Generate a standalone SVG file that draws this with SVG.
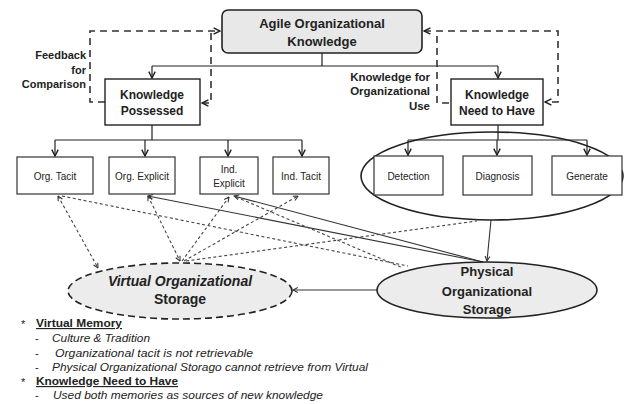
<svg xmlns="http://www.w3.org/2000/svg" width="627" height="404" viewBox="0 0 627 404">
  <defs>
    <marker id="arr" viewBox="0 0 10 10" refX="9" refY="5" markerWidth="8" markerHeight="8" markerUnits="userSpaceOnUse" orient="auto-start-reverse">
      <path d="M1,1 L9,5 L1,9" fill="none" stroke="#222" stroke-width="1.8"/>
    </marker>
    <marker id="arrS" viewBox="0 0 10 10" refX="9" refY="5" markerWidth="6" markerHeight="6" markerUnits="userSpaceOnUse" orient="auto-start-reverse">
      <path d="M1,1 L9,5 L1,9" fill="none" stroke="#333" stroke-width="1.8"/>
    </marker>
  </defs>
  <style>
    .t{font-family:"Liberation Sans",Arial,sans-serif;fill:#222}
    .b{font-weight:bold}
    .mid{text-anchor:middle}
    .end{text-anchor:end}
    .box{fill:#fff;stroke:#222;stroke-width:1.4}
    .sbox{fill:#fff;stroke:#333;stroke-width:1.2}
    .ln{fill:none;stroke:#222;stroke-width:1.2}
    .fb{fill:none;stroke:#333;stroke-width:1.6;stroke-dasharray:7 5}
    .dl{fill:none;stroke:#444;stroke-width:1.1;stroke-dasharray:3 2.5}
    .sl{fill:none;stroke:#333;stroke-width:1.1}
    .note{font-family:"Liberation Sans",Arial,sans-serif;fill:#222;font-size:11px;font-style:italic}
    .head{font-family:"Liberation Sans",Arial,sans-serif;fill:#222;font-size:11.5px;font-weight:bold;text-decoration:underline}
  </style>

  <rect width="627" height="404" fill="#fff"/>

  <!-- connectors -->
  <g id="connectors">
    <!-- top hierarchy -->
    <path class="ln" d="M322,53 V66 M152,66 H498"/>
    <path class="ln" d="M152,66 V78" marker-end="url(#arr)"/>
    <path class="ln" d="M498,66 V78" marker-end="url(#arr)"/>
    <!-- feedback loops -->
    <path class="fb" d="M105,102 H90 V31 H220" marker-end="url(#arr)"/>
    <path class="fb" d="M211,33 V103 H202" marker-end="url(#arr)"/>
    <path class="fb" d="M424,31 H558 V102 H545" marker-start="url(#arr)" marker-end="url(#arr)"/>
    <path class="fb" d="M437,36 V103 H451"/>
    <!-- second level hierarchy -->
    <path class="ln" d="M152,125 V140 M55,140 H302"/>
    <path class="ln" d="M55,140 V156" marker-end="url(#arr)"/>
    <path class="ln" d="M145,140 V156" marker-end="url(#arr)"/>
    <path class="ln" d="M228,140 V156" marker-end="url(#arr)"/>
    <path class="ln" d="M302,140 V156" marker-end="url(#arr)"/>
    <path class="ln" d="M498,125 V140 M408,140 H587"/>
    <path class="ln" d="M408,140 V155" marker-end="url(#arr)"/>
    <path class="ln" d="M497,140 V155" marker-end="url(#arr)"/>
    <path class="ln" d="M587,140 V155" marker-end="url(#arr)"/>
    <!-- storage flows -->
    <path class="sl" d="M483,262 L148,196" marker-end="url(#arrS)"/>
    <path class="sl" d="M483,262 L234,196" marker-end="url(#arrS)"/>
    <path class="sl" d="M491,220 L487,261" marker-end="url(#arrS)"/>
    <path class="sl" d="M378,290 H293" marker-end="url(#arrS)"/>
    <path class="dl" d="M58,196 L98,268" marker-start="url(#arrS)" marker-end="url(#arrS)"/>
    <path class="dl" d="M62,196 L408,266"/>
    <path class="dl" d="M148,196 L180,261" marker-start="url(#arrS)" marker-end="url(#arrS)"/>
    <path class="dl" d="M182,261 L229,197" marker-end="url(#arrS)"/>
    <path class="dl" d="M184,261 L298,196" marker-end="url(#arrS)"/>
    <path class="dl" d="M186,261 L477,221"/>
    <path class="dl" d="M236,197 L403,268"/>
  </g>

  <!-- top node -->
  <g id="agile">
    <rect x="222" y="10" width="200" height="43" rx="6" fill="#e8e8e8" stroke="#222" stroke-width="1.6"/>
    <text class="t b mid" x="322" y="28" font-size="13">Agile Organizational</text>
    <text class="t b mid" x="322" y="46" font-size="13">Knowledge</text>
  </g>

  <g id="possessed">
    <rect class="box" x="105" y="79" width="95" height="46"/>
    <text class="t b mid" x="152" y="99" font-size="12">Knowledge</text>
    <text class="t b mid" x="152" y="115" font-size="12">Possessed</text>
  </g>

  <g id="need">
    <rect class="box" x="451" y="79" width="92" height="46"/>
    <text class="t b mid" x="497" y="99" font-size="12">Knowledge</text>
    <text class="t b mid" x="497" y="115" font-size="12">Need to Have</text>
  </g>

  <g id="labels">
    <text class="t b end" x="86" y="59" font-size="11" fill="#333">Feedback</text>
    <text class="t b end" x="86" y="74" font-size="11">for</text>
    <text class="t b end" x="86" y="88" font-size="11">Comparison</text>
    <text class="t b end" x="430" y="81" font-size="11.5">Knowledge for</text>
    <text class="t b end" x="430" y="95" font-size="11.5">Organizational</text>
    <text class="t b end" x="430" y="110" font-size="11.5">Use</text>
  </g>

  <g id="org-tacit">
    <rect class="sbox" x="17" y="157" width="76" height="37"/>
    <text class="t mid" x="55" y="180" font-size="10">Org. Tacit</text>
  </g>
  <g id="org-explicit">
    <rect class="sbox" x="109" y="157" width="66" height="37"/>
    <text class="t mid" x="142" y="180" font-size="10">Org. Explicit</text>
  </g>
  <g id="ind-explicit">
    <rect class="sbox" x="200" y="157" width="58" height="37"/>
    <text class="t mid" x="229" y="173" font-size="10">Ind.</text>
    <text class="t mid" x="229" y="187" font-size="10">Explicit</text>
  </g>
  <g id="ind-tacit">
    <rect class="sbox" x="273" y="157" width="56" height="37"/>
    <text class="t mid" x="301" y="180" font-size="10">Ind. Tacit</text>
  </g>

  <g id="need-group">
    <ellipse cx="492" cy="176" rx="131" ry="44" fill="none" stroke="#222" stroke-width="1.6"/>
  </g>
  <g id="detection">
    <rect class="sbox" x="374" y="156" width="69" height="39"/>
    <text class="t mid" x="408.5" y="180" font-size="10">Detection</text>
  </g>
  <g id="diagnosis">
    <rect class="sbox" x="463" y="156" width="69" height="39"/>
    <text class="t mid" x="497.5" y="180" font-size="10">Diagnosis</text>
  </g>
  <g id="generate">
    <rect class="sbox" x="552" y="156" width="70" height="39"/>
    <text class="t mid" x="587" y="180" font-size="10">Generate</text>
  </g>

  <g id="virtual-storage">
    <ellipse cx="180" cy="291" rx="112" ry="28" fill="#ececec" stroke="#222" stroke-width="1.6" stroke-dasharray="7 4"/>
    <text class="t b mid" x="180" y="286" font-size="14" font-style="italic" fill="#333">Virtual Organizational</text>
    <text class="t b mid" x="180" y="304" font-size="14" fill="#333">Storage</text>
  </g>

  <g id="physical-storage">
    <ellipse cx="487" cy="290" rx="110" ry="28" fill="#ececec" stroke="#222" stroke-width="1.6"/>
    <text class="t b mid" x="487" y="276" font-size="13">Physical</text>
    <text class="t b mid" x="487" y="296" font-size="13">Organizational</text>
    <text class="t b mid" x="487" y="314" font-size="13">Storage</text>
  </g>

  <!-- notes -->
  <g id="notes">
    <text class="t" x="21" y="328" font-size="11">*</text>
    <text class="head" x="36" y="327" textLength="86" lengthAdjust="spacingAndGlyphs">Virtual Memory</text>
    <text class="t" x="35" y="342" font-size="11">-</text>
    <text class="note" x="52" y="342" textLength="98" lengthAdjust="spacingAndGlyphs">Culture &amp; Tradition</text>
    <text class="t" x="35" y="357" font-size="11">-</text>
    <text class="note" x="55" y="357" textLength="198" lengthAdjust="spacingAndGlyphs">Organizational tacit is not retrievable</text>
    <text class="t" x="35" y="371" font-size="11">-</text>
    <text class="note" x="52" y="371" textLength="316" lengthAdjust="spacingAndGlyphs">Physical Organizational Storago cannot retrieve from Virtual</text>
    <text class="t" x="21" y="386" font-size="11">*</text>
    <text class="head" x="36" y="385" textLength="142" lengthAdjust="spacingAndGlyphs">Knowledge Need to Have</text>
    <text class="t" x="35" y="399" font-size="11">-</text>
    <text class="note" x="53" y="399" textLength="270" lengthAdjust="spacingAndGlyphs">Used both memories as sources of new knowledge</text>
  </g>
</svg>
